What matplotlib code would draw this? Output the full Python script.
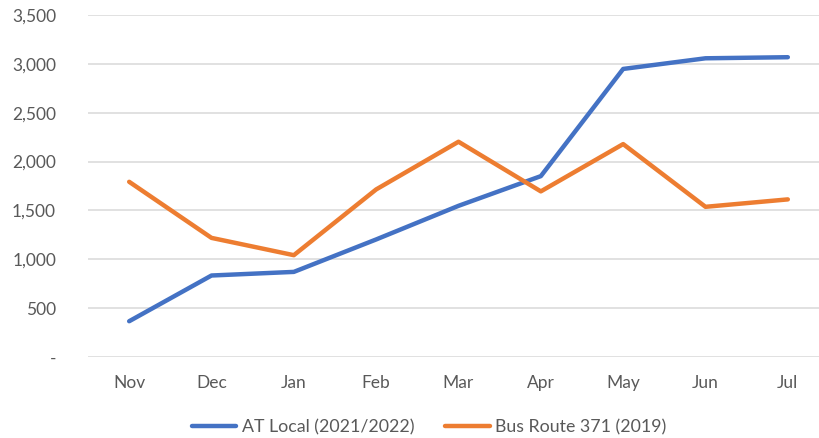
import matplotlib
matplotlib.use("Agg")
import matplotlib.pyplot as plt
from matplotlib.ticker import FuncFormatter

months = ["Nov", "Dec", "Jan", "Feb", "Mar", "Apr", "May", "Jun", "Jul"]
at_local = [366, 834, 871, 1203, 1547, 1851, 2948, 3057, 3068]
bus_371 = [1793, 1219, 1042, 1715, 2203, 1695, 2179, 1537, 1613]
y_ticks = [0, 500, 1000, 1500, 2000, 2500, 3000, 3500]

plt.rcParams["font.family"] = ["Lato", "DejaVu Sans"]

W, H = 820, 438
fig = plt.figure(figsize=(W / 100, H / 100), dpi=100)
# axes in pixel coords: left 88, right 829 (runs off the image edge), top 15, bottom 357
ax = fig.add_axes([88 / W, 1 - 357 / H, (829 - 88) / W, (357 - 15) / H])

x = list(range(len(months)))
ax.plot(x, at_local, color="#4472C4", lw=3.2, solid_capstyle="round", label="AT Local (2021/2022)")
ax.plot(x, bus_371, color="#ED7D31", lw=3.2, solid_capstyle="round", label="Bus Route 371 (2019)")

ax.set_xlim(-0.5, len(months) - 0.5)
ax.set_ylim(0, 3500)
ax.set_yticks(y_ticks)
ax.yaxis.set_major_formatter(FuncFormatter(lambda v, p: "-" if v == 0 else f"{int(v):,}"))
ax.set_xticks(x)
ax.set_xticklabels(months)
ax.grid(axis="y", color="#d9d9d9", lw=1.1)
ax.set_axisbelow(True)
for s in ax.spines.values():
    s.set_visible(False)
ax.tick_params(length=0, colors="#595959", labelsize=12.5)
ax.tick_params(axis="x", pad=13)
ax.tick_params(axis="y", pad=23)

fig.legend(loc="center", bbox_to_anchor=(429 / W, 1 - 427 / H), ncol=2, frameon=False,
           fontsize=12.8, labelcolor="#595959", handlelength=2.5, handletextpad=0.3,
           columnspacing=1.75)

plt.savefig("out.png", dpi=100)
